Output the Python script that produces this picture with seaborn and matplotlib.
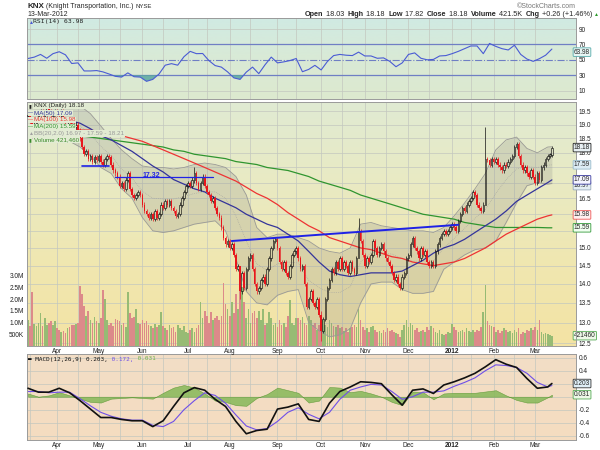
import numpy as np
import pandas as pd
import seaborn as sns
import matplotlib.pyplot as plt
from matplotlib.colors import LinearSegmentedColormap
from matplotlib.lines import Line2D
from matplotlib.ticker import NullLocator

# market holidays inside the window (no bars on these days)
holidays = ["2011-04-22", "2011-05-30", "2011-07-04", "2011-09-05", "2011-11-24",
            "2011-12-26", "2012-01-02", "2012-01-16", "2012-02-20"]

# daily closes 14-Mar-2011 .. 13-Mar-2012
closes = [
    19.3, 19.1, 18.9, 19.0, 19.2, 19.4, 19.5, 19.3, 19.4, 19.6, 19.5, 19.3, 19.4, 19.5,
    19.4, 19.3, 19.5, 19.2, 19.1, 19.2, 19.1, 19.0, 18.9, 19.0, 18.8,
    18.5, 18.2, 17.95, 18.05, 17.8, 17.9, 17.7, 17.85, 17.75,
    17.9, 17.7, 17.6, 17.8, 17.9, 17.85, 17.6, 17.4, 17.3, 17.2,
    16.9, 17.0, 16.8, 17.1, 17.3, 16.8, 16.6, 16.5, 16.6, 16.7, 16.6,
    16.3, 16.1, 16.0, 15.9, 16.0, 15.85, 16.1, 15.9, 16.0, 16.3, 16.2, 16.4, 16.3,
    16.4, 16.2, 16.1, 15.95, 16.0, 16.3, 16.5, 16.7, 16.9,
    17.0, 16.9, 17.1, 17.3, 17.0, 16.8, 17.0, 17.2, 16.9, 16.7,
    16.6, 16.4, 16.5, 16.2, 16.0, 15.9, 15.6, 15.3, 15.1, 15.2,
    15.0, 15.1, 14.8, 14.4, 14.5, 13.8, 14.3, 13.9, 14.4, 14.7,
    14.8, 14.4, 14.0, 13.8, 13.9, 14.1, 14.2, 14.0, 14.4, 14.7, 15.0, 15.2, 15.25,
    15.0, 14.6, 14.4, 14.6, 14.3, 14.2, 14.5, 14.8, 14.9, 15.0, 14.7,
    14.4, 14.5, 14.0, 13.4, 13.6, 13.8, 13.5, 13.4, 13.6, 13.2,
    12.8, 13.1, 13.6, 13.9, 14.1, 14.4, 14.3, 14.6, 14.4, 14.7,
    14.4, 14.6, 14.5, 14.3, 14.6, 14.4, 14.3, 14.7, 15.5, 15.2, 14.8,
    14.5, 14.7, 14.6, 14.8, 15.2, 15.0, 14.8, 15.0, 15.1, 14.9, 14.7, 14.6, 14.5, 14.3,
    14.1, 14.2, 14.0, 13.9, 14.2, 14.3, 14.7,
    14.8, 15.1, 15.3, 15.0, 14.9, 14.7, 15.0, 14.8, 14.9, 14.6, 14.5, 14.6,
    14.5, 14.9, 15.1, 15.3, 15.4, 15.5, 15.4, 15.5, 15.6,
    15.7, 15.6, 15.5, 15.8, 16.0, 16.2, 16.1, 16.3, 16.4, 16.5, 16.7, 16.6, 16.3,
    16.2, 16.1, 16.3, 17.8, 17.75, 17.6, 17.8,
    17.7, 17.8, 17.6, 17.5, 17.4, 17.6, 17.55, 17.7, 17.8, 17.9, 18.2, 18.3, 17.9,
    17.6, 17.4, 17.5, 17.3, 17.2, 17.4, 17.2,
    17.0, 17.3, 17.1, 17.5, 17.6, 17.8, 17.9, 17.92, 18.18,
]

# daily volume in millions
volumes_m = [
    1.1, 0.85, 2.3, 0.95, 0.85, 1.0, 1.4, 0.85, 1.2, 0.9, 1.0, 1.05, 0.9, 1.05,
    0.75, 0.7, 0.6, 0.65, 0.55, 0.75, 0.8, 0.9, 0.9, 0.95, 1.0, 2.55, 2.2, 1.7, 1.3, 1.5,
    1.1, 1.0, 1.25, 1.05,
    1.0, 1.2, 2.4, 2.0, 1.1, 0.9, 1.0, 0.85, 1.15, 1.1, 1.05, 0.9, 1.0, 0.8, 2.3, 1.4,
    1.2, 1.25, 1.6, 1.0, 0.95,
    1.1, 1.0, 1.05, 0.9, 0.85, 0.75, 0.95, 0.8, 0.9, 1.45, 0.85, 0.75, 0.7, 0.9, 0.75,
    0.8, 0.6, 0.9, 0.75, 0.7, 0.85, 0.6,
    0.55, 0.7, 0.75, 0.6, 0.75, 0.9, 1.9, 1.2, 1.5, 1.3, 1.0, 1.45, 1.1, 1.2, 1.3, 1.1,
    1.3, 2.7, 1.8, 1.6,
    1.3, 1.9, 1.4, 2.2, 1.6, 2.7, 2.5, 1.9, 1.2, 1.6, 1.0, 1.4, 1.5, 1.2, 1.5, 1.1,
    1.6, 0.9, 1.0, 1.45, 1.2, 0.9, 1.0,
    0.8, 1.1, 0.9, 1.0, 0.8, 1.3, 1.95, 1.0, 0.9, 1.2, 1.2, 1.1, 1.25, 1.0, 0.9, 1.3,
    1.1, 0.9, 1.0, 0.7, 0.9,
    1.25, 1.1, 0.9, 0.8, 1.1, 1.0, 0.85, 0.8, 0.9, 0.75, 0.8, 0.65, 0.75, 0.6, 0.75,
    0.8, 0.9, 0.8, 1.6, 1.1, 0.8,
    0.7, 0.75, 0.6, 0.8, 0.85, 0.7, 0.6, 0.65, 0.55, 0.7, 0.6, 0.75, 0.65, 0.7, 0.6,
    0.55, 0.5, 0.4, 0.7, 0.9, 1.1,
    0.8, 1.0, 0.9, 0.7, 0.75, 0.6, 0.65, 0.7, 0.6, 0.8, 0.7, 0.85, 0.75, 0.6, 0.55,
    0.7, 0.5, 0.45, 0.5, 0.6, 0.55,
    0.95, 0.8, 0.7, 0.6, 0.65, 0.7, 0.6, 0.75, 0.65, 0.6, 0.7, 0.6, 0.7, 0.65, 0.8,
    1.47, 2.6, 1.05, 0.9, 0.85,
    0.8, 0.6, 0.7, 0.55, 0.65, 0.75, 0.7, 0.6, 0.65, 0.55, 0.7, 0.6, 0.75, 0.5, 0.6,
    0.55, 0.7, 0.65, 0.75, 0.7,
    0.8, 0.7, 1.1, 0.6, 0.5, 0.55, 0.5, 0.45, 0.42,
]

# days with long wicks
wick_days = ["2011-07-07", "2011-08-08", "2011-10-03", "2011-10-27", "2012-01-26"]
wick_highs = [17.5, 14.5, 13.3, 15.9, 18.9]
wick_lows = [17.0, 13.6, 12.55, 14.7, 16.3]

# overlays read every 5 trading days (plus the last day)
ind_step = 5
ma50 = [19.2, 19.2, 19.2, 19.2, 19.15, 19.05, 18.85, 18.6, 18.45, 18.25,
        18.05, 17.8, 17.55, 17.35, 17.1, 16.95, 16.8, 16.7, 16.5, 16.35,
        16.2, 16.0, 15.85, 15.7, 15.6, 15.4, 15.2, 14.9, 14.6, 14.35,
        14.25, 14.2, 14.25, 14.3, 14.3, 14.3, 14.35, 14.5, 14.65, 14.85,
        15.0, 15.1, 15.25, 15.45, 15.65, 15.85, 16.1, 16.4, 16.6, 16.8, 17.0, 17.09]
ma100 = [18.9, 18.9, 18.9, 18.85, 18.85, 18.8, 18.8, 18.75, 18.7, 18.6,
         18.5, 18.4, 18.25, 18.1, 17.95, 17.8, 17.65, 17.5, 17.35, 17.2,
         17.05, 16.85, 16.65, 16.5, 16.3, 16.05, 15.85, 15.65, 15.5, 15.3,
         15.2, 15.1, 15.0, 14.95, 14.85, 14.75, 14.7, 14.6, 14.55, 14.5,
         14.55, 14.6, 14.7, 14.85, 15.0, 15.2, 15.4, 15.55, 15.7, 15.85, 15.95, 15.98]
ma200 = [18.65, 18.65, 18.65, 18.62, 18.6, 18.6, 18.55, 18.5, 18.45, 18.4,
         18.35, 18.3, 18.25, 18.2, 18.1, 18.05, 17.95, 17.9, 17.85, 17.8,
         17.7, 17.65, 17.6, 17.5, 17.45, 17.4, 17.3, 17.2, 17.05, 16.95,
         16.85, 16.75, 16.6, 16.5, 16.4, 16.3, 16.2, 16.1, 16.0, 15.95,
         15.9, 15.85, 15.75, 15.7, 15.65, 15.6, 15.6, 15.6, 15.6, 15.6, 15.59, 15.59]
bb_upper = [20.1, 20.0, 19.9, 19.8, 19.8, 19.7, 19.4, 18.95, 18.5, 18.1,
            17.8, 17.55, 17.5, 17.5, 17.45, 17.5, 17.6, 17.65, 17.6, 17.5,
            17.2, 16.6, 15.6, 15.3, 15.4, 15.4, 15.3, 15.2, 15.0, 14.9,
            14.85, 15.0, 15.7, 15.75, 15.65, 15.6, 15.55, 15.5, 15.5, 15.45,
            15.6, 15.95, 16.35, 16.8, 17.3, 18.1, 18.45, 18.55, 18.15, 18.0, 18.2, 18.21]
bb_lower = [18.6, 18.6, 18.5, 18.5, 18.4, 18.2, 17.9, 17.5, 17.3, 16.8,
            16.5, 15.9, 15.5, 15.45, 15.5, 15.6, 15.7, 15.75, 15.8, 15.5,
            14.7, 13.8, 13.5, 13.45, 13.7, 13.8, 13.85, 13.0, 12.8, 12.65,
            12.7, 12.85, 13.5, 14.0, 14.05, 14.05, 13.85, 13.75, 13.75, 13.8,
            14.4, 14.6, 14.8, 14.95, 15.0, 15.2, 15.75, 16.35, 16.9, 17.0, 16.95, 16.97]
macd = [0.13, 0.07, 0.07, 0.13, 0.06, -0.06, -0.19, -0.32, -0.32, -0.35,
        -0.37, -0.37, -0.46, -0.37, -0.15, 0.06, 0.14, 0.10, -0.04, -0.15,
        -0.38, -0.57, -0.52, -0.50, -0.19, -0.16, -0.11, -0.35, -0.38, -0.10,
        0.08, 0.15, 0.23, 0.22, 0.20, 0.03, -0.13, 0.10, 0.12, 0.05,
        0.18, 0.23, 0.29, 0.36, 0.46, 0.57, 0.50, 0.45, 0.28, 0.13, 0.15, 0.203]
signal = [0.08, 0.08, 0.06, 0.07, 0.07, -0.03, -0.14, -0.24, -0.30, -0.34,
          -0.36, -0.36, -0.44, -0.46, -0.38, -0.20, -0.06, 0.06, 0.02, -0.10,
          -0.28, -0.45, -0.51, -0.49, -0.38, -0.24, -0.17, -0.27, -0.34, -0.24,
          -0.04, 0.10, 0.15, 0.19, 0.18, 0.08, -0.04, 0.00, 0.07, 0.07,
          0.09, 0.16, 0.22, 0.29, 0.40, 0.49, 0.48, 0.45, 0.36, 0.22, 0.15, 0.172]
macd_hist = [0.05, 0.0, 0.02, 0.07, 0.02, -0.03, -0.08, -0.09, -0.03, -0.02,
             -0.01, -0.02, -0.03, 0.06, 0.14, 0.18, 0.14, 0.05, -0.06, -0.08,
             -0.13, -0.14, -0.02, 0.04, 0.14, 0.10, 0.06, -0.09, -0.06, 0.15,
             0.14, 0.07, 0.09, 0.05, 0.0, -0.08, -0.13, 0.08, 0.07, -0.04,
             0.05, 0.06, 0.06, 0.06, 0.08, 0.10, 0.02, -0.05, -0.09, -0.09, -0.01, 0.031]

# RSI(14) read every 3 trading days
rsi_step = 3
rsi14 = [51.7, 53.5, 57, 52, 58, 60.5, 56.5, 45.2, 46, 35.5,
         35.5, 36, 34.3, 31.5, 28.5, 27.5, 33, 28, 27.5, 22,
         24.5, 31.5, 43, 45, 43, 54, 61, 58, 58.2, 49,
         42.5, 40.5, 34.3, 26.5, 24.5, 34, 40.5, 32, 43.5, 53.5,
         46, 47.3, 49, 51.7, 34.5, 37.5, 42.8, 36.8, 47.8, 55.5,
         57, 56, 55.5, 60, 55, 55, 52, 52.5, 48, 41,
         46, 57, 59, 52, 50, 50.5, 55, 55.5, 58, 61,
         64.5, 68, 68, 58, 71.3, 67.5, 64.5, 62.8, 69, 57,
         51, 48, 51.5, 56, 63.98]

# hand-drawn trend lines
neck_days = ["2011-08-02", "2012-01-06"]
neck_prices = [15.2, 15.68]
support_days = ["2011-04-19", "2011-05-09"]
support_prices = [17.55, 17.55]
resist_days = ["2011-05-12", "2011-07-20"]
resist_prices = [17.2, 17.2]
resist_label = "17.32"

month_names = ["Apr", "May", "Jun", "Jul", "Aug", "Sep", "Oct", "Nov", "Dec",
               "2012", "Feb", "Mar"]

GRID = "#c3c7bf"
FS = 4.7


def paint(ax, colors):
    cmap = LinearSegmentedColormap.from_list("bg", colors)
    ax.imshow(np.linspace(0, 1, 256)[:, None], cmap=cmap, aspect="auto",
              extent=[0, 1, 0, 1], transform=ax.transAxes, zorder=0)


def style_axes(ax):
    for s in ax.spines.values():
        s.set_color("#9a9a9a")
        s.set_linewidth(0.7)
    ax.tick_params(axis="both", labelsize=FS, length=0, pad=2, colors="#222222")
    ax.set_xlabel("")
    ax.set_ylabel("")


def plot_chart():
    sns.set_theme(style="white")
    plt.rcParams["font.family"] = ["Liberation Sans", "DejaVu Sans"]

    dates = pd.bdate_range("2011-03-14", "2012-03-13")
    dates = dates[~dates.isin(pd.to_datetime(holidays))]
    n = len(dates)

    df = pd.DataFrame({"date": dates, "close": closes,
                       "volume": np.array(volumes_m) * 1e6})
    df["i"] = np.arange(n)
    df["open"] = df["close"].shift(1).fillna(df["close"])
    df["up"] = df["close"] >= df["open"]
    df["top"] = np.maximum(df["open"], df["close"])
    df["bot"] = np.minimum(df["open"], df["close"])
    df["high"] = df["top"] * 1.004
    df["low"] = df["bot"] * 0.996
    for d, h, l in zip(wick_days, wick_highs, wick_lows):
        k = dates.get_loc(pd.Timestamp(d))
        df.loc[k, "high"] = h
        df.loc[k, "low"] = l

    ind = pd.DataFrame({"i": list(range(0, n, ind_step)) + [n - 1],
                        "ma50": ma50, "ma100": ma100, "ma200": ma200,
                        "upper": bb_upper, "lower": bb_lower,
                        "macd": macd, "signal": signal, "hist": macd_hist})
    ind["mid"] = (ind["upper"] + ind["lower"]) / 2
    rsi = pd.DataFrame({"i": list(range(0, n, rsi_step)), "rsi": rsi14})

    month_idx = df.groupby(df["date"].dt.to_period("M"))["i"].first().values[1:]
    mid_idx = df[df["date"].dt.day >= 15].groupby(
        df["date"].dt.to_period("M"))["i"].first().values
    vgrid = np.concatenate([month_idx, mid_idx])

    fig = plt.figure(figsize=(6, 4.5), dpi=100)
    L, W = 27 / 600, 549 / 600
    ax_rsi = fig.add_axes([L, 1 - 99 / 450, W, 81 / 450])
    ax_vol = fig.add_axes([L, 1 - 346 / 450, W, 244 / 450])
    ax = fig.add_axes([L, 1 - 346 / 450, W, 244 / 450])
    ax_macd = fig.add_axes([L, 1 - 440 / 450, W, 86 / 450])
    ax_vol.set_zorder(1)
    ax.set_zorder(2)
    ax.patch.set_visible(False)
    xlim = (-0.5, 263.6)

    # ---------------- RSI panel ----------------
    paint(ax_rsi, ["#d0eae3", "#d9ead6", "#dde9cf"])
    for v in vgrid:
        ax_rsi.axvline(v, color=GRID, lw=0.5, zorder=0.5)
    for lvl in (10, 90):
        ax_rsi.axhline(lvl, color=GRID, lw=0.5, zorder=0.5)
    ax_rsi.axhline(70, color="#6f7fc4", lw=0.9, zorder=1)
    ax_rsi.axhline(30, color="#6f7fc4", lw=0.9, zorder=1)
    ax_rsi.axhline(50, color="#6f7fc4", lw=0.8, ls="-.", zorder=1)
    ax_rsi.fill_between(rsi["i"], rsi["rsi"], 30, where=rsi["rsi"] < 30,
                        interpolate=True, color="#5aa8a0", alpha=0.85, lw=0, zorder=1.5)
    ax_rsi.fill_between(rsi["i"], rsi["rsi"], 70, where=rsi["rsi"] > 70,
                        interpolate=True, color="#7f8fe0", alpha=0.8, lw=0, zorder=1.5)
    sns.lineplot(data=rsi, x="i", y="rsi", ax=ax_rsi, color="#4a5bd4", lw=0.8,
                 zorder=2, legend=False)
    ax_rsi.set_xlim(xlim)
    ax_rsi.set_ylim(-1, 104.4)
    ax_rsi.set_xticks([])
    ax_rsi.set_yticks([10, 30, 50, 70, 90])
    ax_rsi.yaxis.tick_right()
    style_axes(ax_rsi)

    # ---------------- volume (behind price) ----------------
    paint(ax_vol, ["#e0ebd3", "#e9eac3", "#f0e7b0", "#f4e3a4"])
    for v in vgrid:
        ax_vol.axvline(v, color=GRID, lw=0.5, zorder=0.5)
    for p in np.arange(12.5, 19.51, 0.5):
        ax_vol.add_line(Line2D([0, 1], [p, p], transform=ax.get_yaxis_transform(),
                               color=GRID, lw=0.5, zorder=0.5))
    vcol = np.where(df["up"], "#97bb74", "#dc8a8a")
    ax_vol.bar(df["i"], df["volume"], width=0.8, color=vcol, lw=0, zorder=1)
    ax_vol.set_xlim(xlim)
    ax_vol.set_ylim(0, 10.42e6)
    ax_vol.set_xticks([])
    ax_vol.set_yticks([0.5e6, 1e6, 1.5e6, 2e6, 2.5e6, 3e6])
    ax_vol.set_yticklabels(["500K", "1.0M", "1.5M", "2.0M", "2.5M", "3.0M"])
    style_axes(ax_vol)
    for s in ax_vol.spines.values():
        s.set_visible(False)

    # ---------------- price panel ----------------
    ax.set_yscale("log")
    ax.fill_between(ind["i"], ind["lower"], ind["upper"], color="#8f8f8a",
                    alpha=0.24, lw=0, zorder=1)
    sns.lineplot(data=ind, x="i", y="upper", ax=ax, color="#9a9a96", lw=0.6, zorder=1.2, legend=False)
    sns.lineplot(data=ind, x="i", y="lower", ax=ax, color="#9a9a96", lw=0.6, zorder=1.2, legend=False)
    sns.lineplot(data=ind, x="i", y="mid", ax=ax, color="#a4a4a0", lw=0.5, ls=":", zorder=1.2, legend=False)
    sns.lineplot(data=ind, x="i", y="ma200", ax=ax, color="#2f952f", lw=0.9, zorder=2, legend=False)
    sns.lineplot(data=ind, x="i", y="ma100", ax=ax, color="#ee3333", lw=0.9, zorder=2, legend=False)
    sns.lineplot(data=ind, x="i", y="ma50", ax=ax, color="#34349a", lw=0.9, zorder=2, legend=False)

    # candles: body from previous close to close
    red = "#e8161c"
    up, dn = df[df["up"]], df[~df["up"]]
    hmin = df["bot"] * 0.0025
    ax.vlines(up["i"], up["top"], up["high"], color="#111111", lw=0.5, zorder=3)
    ax.vlines(up["i"], up["low"], up["bot"], color="#111111", lw=0.5, zorder=3)
    ax.vlines(dn["i"], dn["low"], dn["high"], color=red, lw=0.5, zorder=3)
    ax.bar(up["i"], np.maximum(up["top"] - up["bot"], hmin[df["up"]]), bottom=up["bot"],
           width=0.75, facecolor="none", edgecolor="#111111", lw=0.45, zorder=3.1)
    ax.bar(dn["i"], np.maximum(dn["top"] - dn["bot"], hmin[~df["up"]]), bottom=dn["bot"],
           width=0.75, color=red, lw=0, zorder=3.1)

    # trend lines
    blue = "#1f22e6"
    for days, prices, lw in ((neck_days, neck_prices, 1.4),
                             (support_days, support_prices, 1.2),
                             (resist_days, resist_prices, 0.9)):
        xs = [dates.get_loc(pd.Timestamp(d)) for d in days]
        ax.plot(xs, prices, color=blue, lw=lw, zorder=4)
    xr = [dates.get_loc(pd.Timestamp(d)) for d in resist_days]
    ax.text(sum(xr) / 2 - 6, resist_prices[0] * 1.002, resist_label, color=blue,
            fontsize=5, weight="bold", ha="center", va="center", zorder=4)

    ax.set_xlim(xlim)
    ax.set_ylim(12.43, 19.84)
    ax.yaxis.tick_right()
    pticks = np.arange(12.5, 19.51, 0.5)
    covered = {15.5, 16.0, 17.0, 17.5}  # hidden behind the value tags
    ax.set_yticks(pticks)
    ax.set_yticklabels(["" if round(v, 1) in covered else f"{v:.1f}" for v in pticks])
    ax.yaxis.set_minor_locator(NullLocator())
    ax.set_xticks(month_idx)
    ax.set_xticklabels(month_names)
    style_axes(ax)
    ax.tick_params(axis="x", pad=1.5)
    for lab in ax.get_xticklabels():
        if lab.get_text() == "2012":
            lab.set_weight("bold")

    # ---------------- MACD panel ----------------
    paint(ax_macd, ["#f2dec6", "#f5dcc0"])
    for v in vgrid:
        ax_macd.axvline(v, color=GRID, lw=0.5, zorder=0.5)
    for lvl in np.arange(-0.6, 0.61, 0.2):
        ax_macd.axhline(lvl, color=GRID, lw=0.5, zorder=0.5)
    ax_macd.fill_between(ind["i"], 0, ind["hist"], color="#86b858", alpha=0.85,
                         lw=0.4, edgecolor="#5a9632", zorder=1)
    sns.lineplot(data=ind, x="i", y="signal", ax=ax_macd, color="#6f4fe8", lw=0.8, zorder=2, legend=False)
    sns.lineplot(data=ind, x="i", y="macd", ax=ax_macd, color="#111111", lw=1.2, zorder=3, legend=False)
    ax_macd.set_xlim(xlim)
    ax_macd.set_ylim(-0.666, 0.657)
    ax_macd.yaxis.tick_right()
    ticks = [-0.6, -0.4, -0.2, 0.0, 0.2, 0.4, 0.6]
    ax_macd.set_yticks(ticks)
    ax_macd.set_yticklabels(["" if t in (0.0, 0.2) else f"{t:.1f}" for t in ticks])
    ax_macd.set_xticks(month_idx)
    ax_macd.set_xticklabels(month_names)
    style_axes(ax_macd)
    ax_macd.tick_params(axis="x", pad=1.5)
    for lab in ax_macd.get_xticklabels():
        if lab.get_text() == "2012":
            lab.set_weight("bold")

    # ---------------- value tags on the right ----------------
    def tag(a, val, text, ec, fc="white", dy=0):
        a.annotate(text, xy=(1.0, val), xycoords=("axes fraction", "data"),
                   xytext=(-1.5, dy), textcoords="offset points", fontsize=FS,
                   ha="left", va="center", zorder=10, annotation_clip=False,
                   bbox=dict(boxstyle="round,pad=0.12", fc=fc, ec=ec, lw=0.6))

    tag(ax_rsi, rsi14[-1], "63.98", "#55aaaa", "#e8f6f4", dy=-2.2)
    tag(ax, closes[-1], "18.18", "#222222", "#e8f0f4")
    tag(ax, round((bb_upper[-1] + bb_lower[-1]) / 2, 2), "17.59", "#99bbcc", "#dcecf4")
    tag(ax, bb_lower[-1], "16.97", "#99aabb", "#e4eef4", dy=-1.5)
    tag(ax, ma50[-1], "17.09", "#3a3aa0", "#f4f4ff")
    tag(ax, ma100[-1], "15.98", "#ee5555", "#fff0f0")
    tag(ax, ma200[-1], "15.59", "#33993a", "#f0fff0")
    tag(ax_vol, volumes_m[-1] * 1e6 + 2.1e4, "421460", "#55aa55", "#eef8e8")
    tag(ax_macd, macd[-1], "0.203", "#333333", "#dfeef6")
    tag(ax_macd, macd_hist[-1], "0.031", "#55aa55", "#eef8e8")

    # ---------------- legends ----------------
    def fx(x):
        return x / 600

    def fy(y):
        return 1 - y / 450

    bgc = "#e2ebd3"
    leg = [("▮", "#222222", "KNX (Daily) 18.18", "#222222", 106),
           ("—", "#34349a", "MA(50) 17.09", "#34349a", 113),
           ("—", "#ee3333", "MA(100) 15.98", "#ee3333", 120),
           ("—", "#2f952f", "MA(200) 15.59", "#2f952f", 127),
           ("▲", "#a0a0a0", "BB(20,2.0) 16.97 - 17.59 - 18.21", "#999999", 133.5),
           ("▮", "#3a8a2a", "Volume 421,460", "#3a8a2a", 140)]
    for icon, ic, txt, tc, y in leg:
        fig.text(fx(28.5), fy(y), icon, color=ic, fontsize=3.6, va="center",
                 bbox=dict(fc=bgc, ec="none", pad=0.6))
        fig.text(fx(34), fy(y), txt, color=tc, fontsize=4.5, va="center",
                 bbox=dict(fc=bgc, ec="none", pad=0.6))

    fig.text(fx(28.5), fy(22), "▲", color="#4a5bd4", fontsize=3.6, va="center")
    fig.text(fx(33), fy(22), "RSI(14) 63.98", family="DejaVu Sans Mono",
             fontsize=4.6, va="center", color="#222222")

    prev = fig.text(fx(28.5), fy(359), "▬ MACD(12,26,9) 0.203,", family="DejaVu Sans Mono",
                    fontsize=4.3, va="center", color="#111111")
    for s, c in ((" 0.172,", "#6f4fe8"), (" 0.031", "#6fb04a")):
        prev = ax_macd.annotate(s, xy=(1, 0.5), xycoords=prev, va="center", ha="left",
                                family="DejaVu Sans Mono", fontsize=4.3, color=c,
                                annotation_clip=False)

    # ---------------- header ----------------
    t = fig.text(fx(27), fy(6), "KNX", weight="bold", fontsize=5.8, va="center")
    t = ax_rsi.annotate(" (Knight Transportation, Inc.) ", xy=(1, 0.5), xycoords=t,
                        va="center", fontsize=5, annotation_clip=False)
    ax_rsi.annotate("NYSE", xy=(1, 0.5), xycoords=t, va="center", fontsize=4.3,
                    annotation_clip=False)
    fig.text(fx(27), fy(14), "13-Mar-2012", fontsize=5, va="center")
    fig.text(fx(576), fy(6), "©StockCharts.com", fontsize=5, color="#777777",
             ha="right", va="center")

    parts = [("Open", True), (" 18.03  ", False), ("High", True), (" 18.18  ", False),
             ("Low", True), (" 17.82  ", False), ("Close", True), (" 18.18  ", False),
             ("Volume", True), (" 421.5K  ", False), ("Chg", True),
             (" +0.26 (+1.46%) ", False)]
    t = fig.text(fx(305), fy(14), parts[0][0], weight="bold", fontsize=5.2, va="center")
    for s, b in parts[1:]:
        t = ax_rsi.annotate(s, xy=(1, 0.5), xycoords=t, va="center", fontsize=5.2,
                            weight="bold" if b else "normal", annotation_clip=False)
    ax_rsi.annotate("▲", xy=(1, 0.5), xycoords=t, va="center", fontsize=3.6,
                    color="#2a9a2a", annotation_clip=False)

    fig.savefig("out.png", dpi=100, facecolor="white")


if __name__ == "__main__":
    plot_chart()
